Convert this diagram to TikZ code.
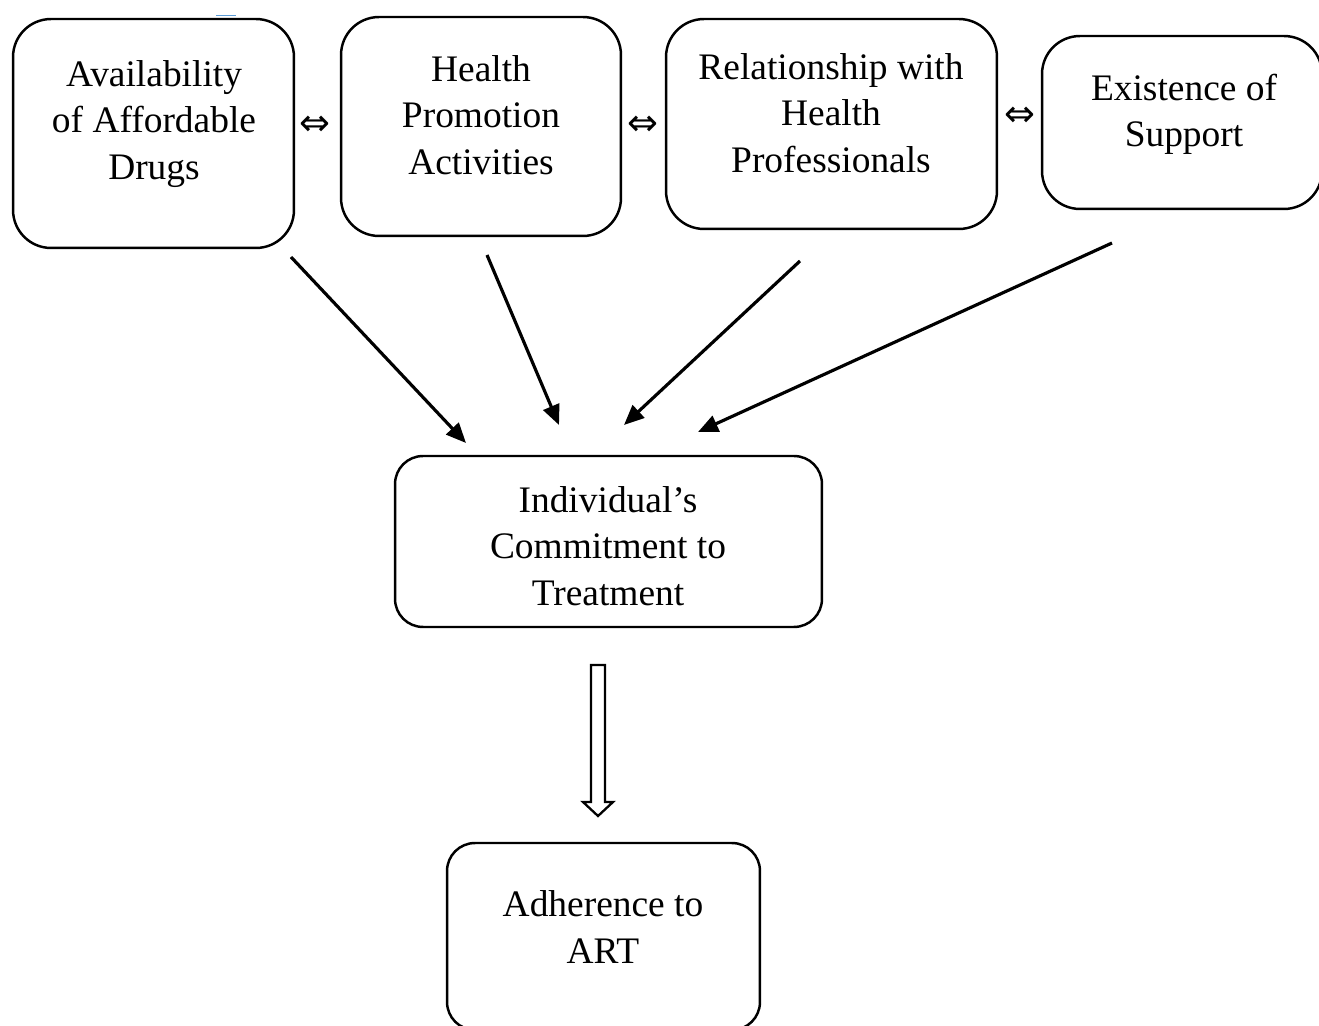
\documentclass[tikz,border=0pt]{standalone}
\usepackage{fontspec}
\setmainfont{Liberation Serif}
\newfontfamily\symfont{DejaVu Sans}
\usetikzlibrary{arrows.meta}
\tikzset{
  box/.style={draw, line width=1.4pt, rounded corners=0.76cm, inner sep=0pt},
  boxsmall/.style={box, rounded corners=0.56cm},
  lbl/.style={align=center, font=\fontsize{21.3}{26.3}\selectfont, inner sep=0pt},
  dbl/.style={font=\symfont\fontsize{21}{24}\selectfont, inner sep=0pt},
  link/.style={line width=1.8pt, -{Triangle[length=0.4cm, width=0.34cm]}},
  hollow/.style={draw, line width=1.3pt, fill=white, line join=miter}
}
\begin{document}
\begin{tikzpicture}[x=0.02cm, y=-0.02cm]
\useasboundingbox (0,0) rectangle (1319,1026);
% boxes
\node[box, minimum width=5.62cm, minimum height=4.58cm] (b1) at (153.5,133.5) {};
\node[box, minimum width=5.6cm, minimum height=4.38cm] (b2) at (481,126.5) {};
\node[box, minimum width=6.62cm, minimum height=4.2cm] (b3) at (831.5,124) {};
\node[box, minimum width=5.6cm, minimum height=3.46cm] (b4) at (1182,122.5) {};
\node[boxsmall, minimum width=8.54cm, minimum height=3.42cm] (b5) at (608.5,541.5) {};
\node[boxsmall, minimum width=6.26cm, minimum height=3.74cm] (b6) at (603.5,936.5) {};
% texts
\node[lbl] (t1) at (154,124) {Availability\\of Affordable\\Drugs};
\node[lbl] (t2) at (481,115) {Health\\Promotion\\Activities};
\node[lbl] (t3) at (831,113) {Relationship with\\Health\\Professionals};
\node[lbl] (t4) at (1184,114) {Existence of\\Support};
\node[lbl] (t5) at (608,546) {Individual’s\\Commitment to\\Treatment};
\node[lbl] (t6) at (603,927) {Adherence to\\ART};
% double arrows
\node[dbl] (d1) at (315,126) {⇔};
\node[dbl] (d2) at (643,126) {⇔};
\node[dbl] (d3) at (1020,117) {⇔};
% connector end points
\coordinate (s1) at (291,257);
\coordinate (e1) at (466,443);
\coordinate (s2) at (487,255);
\coordinate (e2) at (559,425);
\coordinate (s3) at (800,261);
\coordinate (e3) at (624,425);
\coordinate (s4) at (1112,243);
\coordinate (e4) at (698,432);
\draw[link] (s1) -- (e1);
\draw[link] (s2) -- (e2);
\draw[link] (s3) -- (e3);
\draw[link] (s4) -- (e4);
% hollow arrow
\draw[hollow] (591,665) -- (605,665) -- (605,802) -- (613,802) -- (598,816) -- (583,802) -- (591,802) -- cycle;
% small blue mark
\draw[color={rgb,255:red,91;green,155;blue,213}, line width=0.6pt] (216,15.5) -- (236,15.5);
\end{tikzpicture}
\end{document}
